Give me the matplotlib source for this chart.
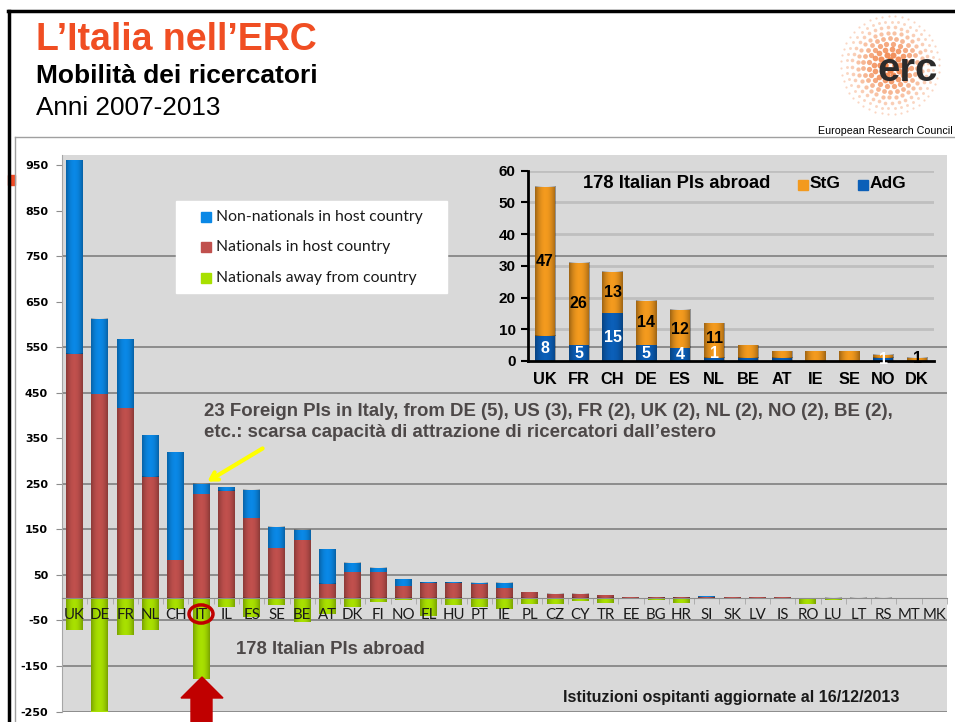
import matplotlib.pyplot as plt
from matplotlib.patches import Rectangle, Circle, Polygon, FancyArrowPatch
from matplotlib.lines import Line2D
import numpy as np

W, H = 955, 722

# main chart data
countries = ['UK', 'DE', 'FR', 'NL', 'CH', 'IT', 'IL', 'ES', 'SE', 'BE', 'AT', 'DK',
             'FI', 'NO', 'EL', 'HU', 'PT', 'IE', 'PL', 'CZ', 'CY', 'TR', 'EE', 'BG',
             'HR', 'SI', 'SK', 'LV', 'IS', 'RO', 'LU', 'LT', 'RS', 'MT', 'MK']
nationals_host = [536, 447, 417, 266, 83, 227, 235, 175, 108, 127, 31, 57,
                  57, 26, 33, 33, 29, 21, 13, 7, 7, 5, 2, 2,
                  2, 1, 2, 2, 2, 0, 0, 0, 0, 0, 0]
non_nationals = [424, 165, 151, 91, 237, 23, 8, 62, 48, 22, 76, 20,
                 9, 14, 2, 2, 4, 12, 0, 2, 2, 0, 0, 0,
                 0, 2, 0, 0, 0, 0, 0, 0, 0, 0, 0]
nationals_away = [70, 255, 81, 70, 26, 178, 21, 43, 17, 54, 35, 21,
                  9, 6, 41, 17, 21, 26, 15, 13, 7, 11, 0, 6,
                  11, 4, 0, 0, 0, 13, 6, 3, 3, 0, 0]
yticks = [950, 850, 750, 650, 550, 450, 350, 250, 150, 50, -50, -150, -250]
grid_at = [750, 550, 450, 250, 150, 50, -50, -150, -250]

# inset data: Italian PIs abroad
abroad = ['UK', 'FR', 'CH', 'DE', 'ES', 'NL', 'BE', 'AT', 'IE', 'SE', 'NO', 'DK']
adg = [8, 5, 15, 5, 4, 1, 1, 1, 0, 0, 1, 0]
stg = [47, 26, 13, 14, 12, 11, 4, 2, 3, 3, 1, 1]

blue = '#0A88E6'
red = '#C0504D'
green = '#A8E000'
orange = '#F39A1E'
dblue = '#0B5FB8'


def fx(x):
    return x / W


def fy(y):
    return 1 - y / H


def shade(ax, bars, strength=0.28):
    prof = np.linspace(-1, 1, 40)
    img = np.zeros((1, 40, 4))
    img[0, :, 3] = strength * prof ** 2
    for p in bars:
        h = p.get_height()
        if h == 0:
            continue
        x0, y0, w = p.get_x(), p.get_y(), p.get_width()
        ax.imshow(img, extent=(x0, x0 + w, min(y0, y0 + h), max(y0, y0 + h)),
                  aspect='auto', zorder=p.get_zorder() + 0.1, interpolation='bilinear')


fig = plt.figure(figsize=(W / 100, H / 100), dpi=100)

# ---- main chart ----
ax = fig.add_axes([fx(62), fy(711.5), (947 - 62) / W, (711.5 - 155) / H])
ax.set_facecolor('#D9D9D9')
x = np.arange(len(countries))
bw = 0.67
b1 = ax.bar(x, nationals_host, bw, color=red, zorder=2)
b2 = ax.bar(x, non_nationals, bw, bottom=nationals_host, color=blue, zorder=2)
b3 = ax.bar(x, [-v for v in nationals_away], bw, color=green, zorder=2)
for bars in (b1, b2, b3):
    shade(ax, bars)

ax.hlines(grid_at, -0.5, 34.5, color='#808080', lw=1.2, zorder=0.5)
for sp in ('top', 'right'):
    ax.spines[sp].set_visible(False)
ax.spines['left'].set_color('#A6A6A6')
ax.spines['bottom'].set_position(('data', 0))
ax.spines['bottom'].set_color('#8C8C8C')
ax.set_yticks(yticks)
ax.set_yticklabels([str(v) for v in yticks], fontsize=8, fontweight='bold',
                   family='DejaVu Sans')
ax.tick_params(axis='y', length=4, color='#8C8C8C', pad=6)
ax.set_xticks([])
ax.set_xticks(np.arange(-0.5, len(countries)), minor=True)
ax.tick_params(axis='x', which='minor', length=4, color='#A6A6A6', labelbottom=False)
for i, c in enumerate(countries):
    ax.text(i, -39, c, ha='center', va='center', fontsize=10.8, family='Lato',
            color='#1A1A1A', zorder=5)
ax.set_xlim(-0.5, 34.5)
ax.set_ylim(-250, 972)

# ---- inset chart ----
ax2 = fig.add_axes([fx(528), fy(361), (934 - 528) / W, (361 - 170.7) / H])
ax2.patch.set_alpha(0)
xi = np.arange(len(abroad))
c1 = ax2.bar(xi, adg, 0.6, color=dblue, zorder=2)
c2 = ax2.bar(xi, stg, 0.6, bottom=adg, color=orange, zorder=2)
shade(ax2, c1, 0.3)
shade(ax2, c2, 0.35)
ax2.hlines(range(10, 61, 10), -0.5, 11.5, color='#BFBFBF', lw=2, zorder=0.5)
for sp in ('top', 'right'):
    ax2.spines[sp].set_visible(False)
for sp in ('left', 'bottom'):
    ax2.spines[sp].set_linewidth(2)
ax2.set_yticks(range(0, 61, 10))
ax2.set_yticklabels([str(v) for v in range(0, 61, 10)], fontsize=11,
                    fontweight='bold', family='Liberation Sans')
ax2.set_xticks(xi)
ax2.set_xticklabels(abroad, fontsize=11.8, fontweight='bold', family='Liberation Sans')
ax2.tick_params(axis='y', length=5, width=1.5, pad=4)
ax2.tick_params(axis='x', length=0, pad=8)
lab = dict(ha='center', va='center', fontsize=11.5, fontweight='bold',
           family='Liberation Sans')
for i in range(5):
    ax2.text(i, adg[i] + stg[i] / 2, str(stg[i]), color='black', zorder=5, **lab)
    ax2.text(i, adg[i] / 2, str(adg[i]), color='white', zorder=5, **lab)
ax2.text(5, 7.2, str(stg[5]), color='black', zorder=5, **lab)
ax2.text(5, 2.3, '1', color='white', zorder=5, **lab)
ax2.text(10, 0.4, '1', color='white', zorder=5, **lab)
ax2.text(11, 0.9, '1', color='black', zorder=5, **lab)
ax2.set_xlim(-0.5, 11.5)
ax2.set_ylim(0, 60)
fig.text(fx(583), fy(184), '178 Italian PIs abroad', fontsize=13.2, fontweight='bold',
         family='Liberation Sans', va='center')
fig.add_artist(Rectangle((fx(798), fy(190)), 10 / W, 10 / H, color=orange,
                         transform=fig.transFigure))
fig.text(fx(810), fy(184), 'StG', fontsize=12.5, fontweight='bold',
         family='Liberation Sans', va='center')
fig.add_artist(Rectangle((fx(858), fy(190)), 10 / W, 10 / H, color=dblue,
                         transform=fig.transFigure))
fig.text(fx(870), fy(184), 'AdG', fontsize=12.5, fontweight='bold',
         family='Liberation Sans', va='center')

# ---- main legend ----
fig.add_artist(Rectangle((fx(176), fy(293)), (447 - 176) / W, (293 - 201) / H,
                         color='white', transform=fig.transFigure))
leg = [('Non-nationals in host country', blue, 217),
       ('Nationals in host country', red, 247),
       ('Nationals away from country', green, 278)]
for txt, col, yy in leg:
    fig.add_artist(Rectangle((fx(201), fy(yy + 5)), 10 / W, 10 / H, color=col,
                             transform=fig.transFigure))
    fig.text(fx(216), fy(yy), txt, fontsize=11.3, family='Lato', color='#1A1A1A',
             va='center')

# ---- annotations ----
grey_txt = '#4D4848'
fig.text(fx(204), fy(416), '23 Foreign PIs in Italy, from DE (5), US (3), FR (2), '
         'UK (2), NL (2), NO (2), BE (2),', fontsize=13.4, fontweight='bold',
         family='Liberation Sans', color=grey_txt, va='baseline')
fig.text(fx(204), fy(437), 'etc.: scarsa capacità di attrazione di ricercatori dall’estero',
         fontsize=13.4, fontweight='bold', family='Liberation Sans', color=grey_txt,
         va='baseline')
fig.add_artist(FancyArrowPatch((fx(265), fy(447)), (fx(205), fy(483)),
                               transform=fig.transFigure, arrowstyle='->,head_length=5,head_width=3',
                               color='#FFFF00', lw=3))
fig.add_artist(Circle((fx(201), fy(614)), 12 / W, transform=fig.transFigure,
                      fill=False, ec='#C00000', lw=2.5))
fig.text(fx(236), fy(654), '178 Italian PIs abroad', fontsize=13.3, fontweight='bold',
         family='Liberation Sans', color=grey_txt, va='baseline')
arrow = [(202, 677), (223, 698), (212, 698), (212, 722), (191, 722), (191, 698), (181, 698)]
fig.add_artist(Polygon([(fx(a), fy(b)) for a, b in arrow], closed=True, color='#C00000',
                       transform=fig.transFigure))
fig.text(fx(563), fy(702), 'Istituzioni ospitanti aggiornate al 16/12/2013', fontsize=11.5,
         fontweight='bold', family='Liberation Sans', color='#1A1A1A', va='baseline')

# ---- slide frame and titles ----
fig.add_artist(Line2D([fx(8), 1], [fy(11), fy(11)], lw=2.5, color='black'))
fig.add_artist(Line2D([fx(9), fx(9)], [fy(11), 0], lw=2.5, color='black'))
fig.add_artist(Line2D([fx(15), 1], [fy(137), fy(137)], lw=1, color='#A0A0A0'))
fig.add_artist(Line2D([fx(15), fx(15)], [fy(137), 0], lw=1, color='#A0A0A0'))
fig.add_artist(Rectangle((fx(8), fy(185)), 7 / W, 10 / H, color='#F04A24',
                         transform=fig.transFigure))
fig.text(fx(36), fy(50), 'L’Italia nell’ERC', fontsize=27, fontweight='bold',
         family='Liberation Sans', color='#F04E23', va='baseline')
fig.text(fx(36), fy(83), 'Mobilità dei ricercatori', fontsize=19, fontweight='bold',
         family='Liberation Sans', va='baseline')
fig.text(fx(36), fy(115), 'Anni 2007-2013', fontsize=18.8, family='Liberation Sans',
         va='baseline')

# erc logo
axl = fig.add_axes([fx(838), fy(117), 104 / W, 104 / H])
axl.set_xlim(-52, 52)
axl.set_ylim(-52, 52)
axl.axis('off')
for r in np.arange(5, 50, 5.5):
    n = int(2 * np.pi * r / 6.5)
    t = np.linspace(0, 2 * np.pi, n, endpoint=False) + r * 0.3
    s = max(2.5, 24 - r * 0.45)
    axl.scatter(r * np.cos(t), r * np.sin(t), s=s, color='#F07A3A',
                alpha=max(0.3, 1 - r / 60), lw=0)
fig.text(fx(908), fy(70), 'erc', fontsize=29, fontweight='bold', family='Liberation Sans',
         color='#2B2B2B', ha='center', va='center')
fig.text(fx(818), fy(134), 'European Research Council', fontsize=7.7,
         family='Liberation Sans', color='black', va='baseline')

fig.savefig('out.png', dpi=100)
